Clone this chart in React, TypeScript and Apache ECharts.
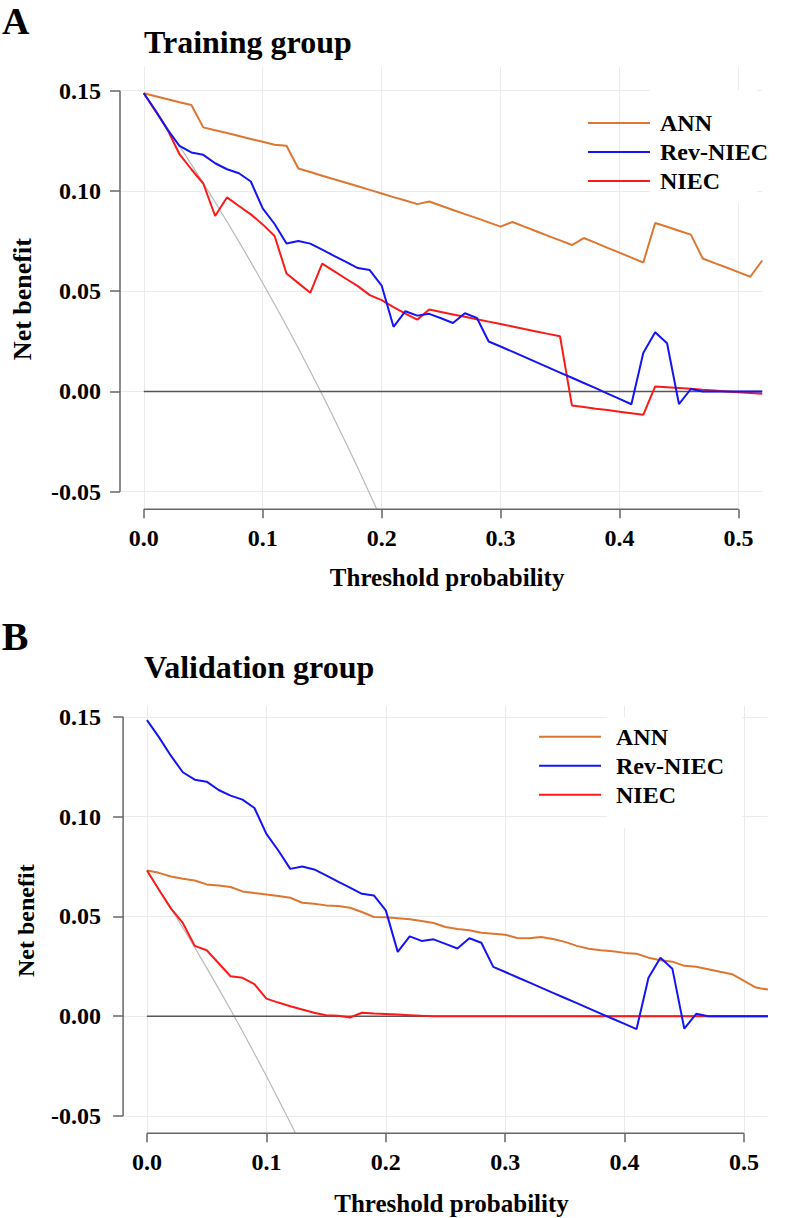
import React, { useEffect, useRef } from "react";
import * as echarts from "echarts";

const thresholds = [
  0, 0.01, 0.02, 0.03, 0.04, 0.05, 0.06, 0.07, 0.08, 0.09,
  0.1, 0.11, 0.12, 0.13, 0.14, 0.15, 0.16, 0.17, 0.18, 0.19,
  0.2, 0.21, 0.22, 0.23, 0.24, 0.25, 0.26, 0.27, 0.28, 0.29,
  0.3, 0.31, 0.32, 0.33, 0.34, 0.35, 0.36, 0.37, 0.38, 0.39,
  0.4, 0.41, 0.42, 0.43, 0.44, 0.45, 0.46, 0.47, 0.48, 0.49,
  0.5, 0.51, 0.52,
];

const trainANN = [
  0.1487, 0.1472, 0.1457, 0.1442, 0.1428, 0.1317, 0.1303, 0.1289, 0.1274, 0.1259,
  0.1245, 0.123, 0.1225, 0.1112, 0.1094, 0.1076, 0.1058, 0.1041, 0.1023, 0.1005,
  0.0987, 0.0969, 0.0952, 0.0934, 0.0947, 0.0926, 0.0905, 0.0884, 0.0864, 0.0843,
  0.0822, 0.0845, 0.0822, 0.0799, 0.0776, 0.0753, 0.073, 0.0765, 0.0741, 0.0716,
  0.0692, 0.0667, 0.0643, 0.084, 0.0821, 0.0801, 0.0782, 0.0663, 0.064, 0.0618,
  0.0595, 0.0572, 0.0653,
];

const trainRevNIEC = [
  0.1487, 0.14, 0.1305, 0.1225, 0.1192, 0.118, 0.1138, 0.1108, 0.1088, 0.1047,
  0.0913, 0.0835, 0.0738, 0.075, 0.0737, 0.0707, 0.0676, 0.0646, 0.0615, 0.0605,
  0.0528, 0.0322, 0.04, 0.0378, 0.0387, 0.0365, 0.0341, 0.039, 0.0367, 0.0249,
  0.0224, 0.0198, 0.0172, 0.0146, 0.012, 0.0094, 0.0068, 0.0042, 0.0016, -0.0011,
  -0.0037, -0.0064, 0.0192, 0.0295, 0.024, -0.0063, 0.0012, 0, 0, 0,
  0, 0, 0,
];

const trainNIEC = [
  0.1487, 0.1396, 0.1305, 0.1183, 0.1108, 0.1037, 0.0875, 0.0968, 0.0925, 0.0883,
  0.0833, 0.0775, 0.0588, 0.054, 0.0492, 0.0637, 0.06, 0.0562, 0.0525, 0.048,
  0.0455, 0.042, 0.0388, 0.0358, 0.0408, 0.0396, 0.0384, 0.0372, 0.036, 0.0348,
  0.0336, 0.0324, 0.0311, 0.0299, 0.0287, 0.0275, -0.007, -0.0078, -0.0086, -0.0093,
  -0.0101, -0.0109, -0.0117, 0.0025, 0.0021, 0.0017, 0.0013, 0.0008, 0.0004, 0,
  -0.0004, -0.0008, -0.0012,
];

const trainTreatAll = [
  0.1487, 0.1401, 0.1313, 0.1224, 0.1132, 0.1039, 0.0944, 0.0846, 0.0747, 0.0645,
  0.0541, 0.0435, 0.0326, 0.0215, 0.0101, -0.0015, -0.0135, -0.0257, -0.0382, -0.051,
  -0.0641,
];

const validANN = [
  0.073, 0.0718, 0.07, 0.0688, 0.068, 0.066, 0.0655, 0.0647, 0.0625, 0.0617,
  0.061, 0.0602, 0.0593, 0.0568, 0.0563, 0.0555, 0.0552, 0.0543, 0.0522, 0.0497,
  0.0495, 0.049, 0.0485, 0.0477, 0.0467, 0.0447, 0.0437, 0.043, 0.0418, 0.0413,
  0.0408, 0.0392, 0.039, 0.0397, 0.0387, 0.0372, 0.0352, 0.0338, 0.033, 0.0325,
  0.0317, 0.0313, 0.0293, 0.028, 0.0273, 0.0252, 0.0247, 0.0235, 0.0222, 0.021,
  0.0177, 0.0143, 0.0133,
];

const validRevNIEC = [
  0.1483, 0.1398, 0.1305, 0.1222, 0.1185, 0.1175, 0.1133, 0.1105, 0.1085, 0.1043,
  0.0913, 0.083, 0.0738, 0.075, 0.0735, 0.0705, 0.0674, 0.0644, 0.0613, 0.0605,
  0.053, 0.0322, 0.04, 0.0377, 0.0385, 0.0362, 0.0339, 0.039, 0.0368, 0.0247,
  0.0221, 0.0195, 0.0169, 0.0143, 0.0117, 0.0091, 0.0065, 0.0039, 0.0013, -0.0013,
  -0.0039, -0.0065, 0.0192, 0.0293, 0.0238, -0.0063, 0.0012, 0, 0, 0,
  0, 0, 0,
];

const validNIEC = [
  0.073, 0.0633, 0.054, 0.0467, 0.0352, 0.033, 0.0265, 0.02, 0.0192, 0.016,
  0.0088, 0.0068, 0.005, 0.0033, 0.0017, 0.0005, 0.0002, -0.0007, 0.0017, 0.0013,
  0.0011, 0.0008, 0.0005, 0.0002, 0, 0, 0, 0, 0, 0,
  0, 0, 0, 0, 0, 0, 0, 0, 0, 0,
  0, 0, 0, 0, 0, 0, 0, 0, 0, 0,
  0, 0, 0,
];

const validTreatAll = [
  0.073, 0.0636, 0.0541, 0.0443, 0.0344, 0.0242, 0.0138, 0.0032, -0.0076, -0.0187,
  -0.03, -0.0416, -0.0534, -0.0655,
];

const treatNoneX = [0, 0.52];
const treatNoneY = [0, 0];

const yTicks = [-0.05, 0, 0.05, 0.1, 0.15];
const xTicks = [0, 0.1, 0.2, 0.3, 0.4, 0.5];
const seriesNames = ["ANN", "Rev-NIEC", "NIEC"];
const panelTitles = ["Training group", "Validation group"];
const panelLetters = ["A", "B"];
const xAxisTitle = "Threshold probability";
const yAxisTitle = "Net benefit";

const COLORS: Record<string, string> = {
  ANN: "#DE7631",
  "Rev-NIEC": "#1414F5",
  NIEC: "#FA1A1A",
};
const FONT = "'Liberation Serif', 'Times New Roman', serif";

const pairs = (xs: number[], ys: number[]) => ys.map((v, i) => [xs[i], v]);

export default function App() {
  const ref = useRef<HTMLDivElement>(null);

  useEffect(() => {
    if (!ref.current) return;
    const chart = echarts.init(ref.current, undefined, { renderer: "svg" });

    const grids = [
      { left: 120, top: 67, width: 642.2, height: 442.3 },
      { left: 123.1, top: 706, width: 644.8, height: 427.3 },
    ];
    const yRanges = [
      [-0.0588, 0.1618],
      [-0.0587, 0.1554],
    ];

    const makeX = (gi: number) => ({
      type: "value",
      gridIndex: gi,
      min: -0.02,
      max: 0.52,
      name: xAxisTitle,
      nameLocation: "middle",
      nameGap: gi === 0 ? 56 : 57.5,
      nameTextStyle: {
        fontFamily: FONT,
        fontWeight: "bold",
        fontSize: 25,
        lineHeight: 25,
        color: "#000",
        padding: [0, 0, 0, 12],
      },
      axisLine: { show: false, onZero: false },
      axisTick: {
        show: true,
        length: 9,
        inside: false,
        customValues: xTicks,
        lineStyle: { color: "#666", width: 1.5 },
      },
      axisLabel: {
        customValues: xTicks,
        margin: 17,
        fontFamily: FONT,
        fontWeight: "bold",
        fontSize: 24,
        lineHeight: 24,
        color: "#000",
        formatter: (v: number) => v.toFixed(1),
      },
      splitLine: { show: true, lineStyle: { color: "#ebebeb", width: 1 } },
    });

    const makeY = (gi: number) => ({
      type: "value",
      gridIndex: gi,
      min: yRanges[gi][0],
      max: yRanges[gi][1],
      name: yAxisTitle,
      nameLocation: "middle",
      nameRotate: 90,
      nameGap: gi === 0 ? 84.5 : 85.3,
      nameTextStyle: {
        fontFamily: FONT,
        fontWeight: "bold",
        fontSize: gi === 0 ? 26 : 24,
        lineHeight: gi === 0 ? 26 : 24,
        color: "#000",
        padding: gi === 0 ? [0, 22, 0, 0] : [0, 2, 0, 0],
      },
      axisLine: { show: false, onZero: false },
      axisTick: {
        show: true,
        length: 10,
        inside: false,
        customValues: yTicks,
        lineStyle: { color: "#666", width: 1.5 },
      },
      axisLabel: {
        customValues: yTicks,
        margin: gi === 0 ? 19 : 22,
        fontFamily: FONT,
        fontWeight: "bold",
        fontSize: 24,
        lineHeight: 24,
        color: "#000",
        formatter: (v: number) => v.toFixed(2),
      },
      splitLine: { show: true, lineStyle: { color: "#ebebeb", width: 1 } },
    });

    const panelData = [
      { ANN: trainANN, "Rev-NIEC": trainRevNIEC, NIEC: trainNIEC, all: trainTreatAll },
      { ANN: validANN, "Rev-NIEC": validRevNIEC, NIEC: validNIEC, all: validTreatAll },
    ];

    const series: any[] = [];
    panelData.forEach((pd, gi) => {
      series.push({
        name: "Treat all",
        type: "line",
        xAxisIndex: gi,
        yAxisIndex: gi,
        data: pairs(thresholds, pd.all),
        showSymbol: false,
        lineStyle: { color: "#b9b9b9", width: 1.2 },
        itemStyle: { color: "#b9b9b9" },
        z: 2,
      });
      series.push({
        name: "Treat none",
        type: "line",
        xAxisIndex: gi,
        yAxisIndex: gi,
        data: pairs(treatNoneX, treatNoneY),
        showSymbol: false,
        lineStyle: { color: "#555", width: 1.5 },
        itemStyle: { color: "#555" },
        z: 2,
      });
      ["ANN", "NIEC", "Rev-NIEC"].forEach((nm) => {
        series.push({
          name: nm,
          type: "line",
          xAxisIndex: gi,
          yAxisIndex: gi,
          data: pairs(thresholds, (pd as any)[nm]),
          showSymbol: false,
          lineStyle: { color: COLORS[nm], width: 2 },
          itemStyle: { color: COLORS[nm] },
          z: 3,
        });
      });
    });

    const legendBase = (left: number, top: number, textGap: number) => ({
      data: seriesNames,
      orient: "vertical",
      left,
      top,
      padding: 0,
      icon: "rect",
      itemWidth: 62,
      itemHeight: 2,
      itemGap: 5,
      selectedMode: false,
      textStyle: {
        fontFamily: FONT,
        fontWeight: "bold",
        fontSize: 24,
        lineHeight: 24,
        color: "#000",
        padding: [0, 0, 0, textGap],
      },
    });

    const titleStyle = (size: number, lh: number) => ({
      fontFamily: FONT,
      fontWeight: "bold",
      fontSize: size,
      lineHeight: lh,
      color: "#000",
    });

    chart.setOption({
      animation: false,
      backgroundColor: "#fff",
      title: [
        { text: panelLetters[0], left: 2, top: 2, padding: 0, textStyle: titleStyle(38, 38) },
        { text: panelTitles[0], left: 144, top: 25.7, padding: 0, textStyle: titleStyle(32, 32) },
        { text: panelLetters[1], left: 1.7, top: 617, padding: 0, textStyle: titleStyle(40, 38) },
        { text: panelTitles[1], left: 144, top: 651, padding: 0, textStyle: titleStyle(32, 32) },
      ],
      legend: [legendBase(588, 111, 5), legendBase(539, 724.7, 10)],
      grid: grids,
      xAxis: [makeX(0), makeX(1)],
      yAxis: [makeY(0), makeY(1)],
      series,
    });

    // R-style axis lines spanning only the tick range
    const graphics: any[] = [];
    [0, 1].forEach((gi) => {
      const pTop = chart.convertToPixel({ gridIndex: gi } as any, [-0.02, yTicks[yTicks.length - 1]]) as number[];
      const pBot = chart.convertToPixel({ gridIndex: gi } as any, [-0.02, yTicks[0]]) as number[];
      const pX0 = chart.convertToPixel({ gridIndex: gi } as any, [xTicks[0], yRanges[gi][0]]) as number[];
      const pX1 = chart.convertToPixel({ gridIndex: gi } as any, [xTicks[xTicks.length - 1], yRanges[gi][0]]) as number[];
      graphics.push({
        type: "line",
        shape: { x1: pTop[0], y1: pTop[1], x2: pBot[0], y2: pBot[1] },
        style: { stroke: "#666", lineWidth: 1.5 },
        z: 5,
      });
      graphics.push({
        type: "line",
        shape: { x1: pX0[0], y1: pX0[1], x2: pX1[0], y2: pX1[1] },
        style: { stroke: "#666", lineWidth: 1.5 },
        z: 5,
      });
    });
    // white legend backing boxes
    graphics.push({
      type: "rect",
      shape: { x: 650, y: 90, width: 107, height: 113 },
      style: { fill: "#fff" },
      z: 1,
    });
    graphics.push({
      type: "rect",
      shape: { x: 607, y: 717, width: 135, height: 111 },
      style: { fill: "#fff" },
      z: 1,
    });
    chart.setOption({ graphic: graphics });

    return () => chart.dispose();
  }, []);

  return (
    <div
      ref={ref}
      style={{ position: "absolute", left: 0, top: 0, width: 786, height: 1218 }}
    />
  );
}
